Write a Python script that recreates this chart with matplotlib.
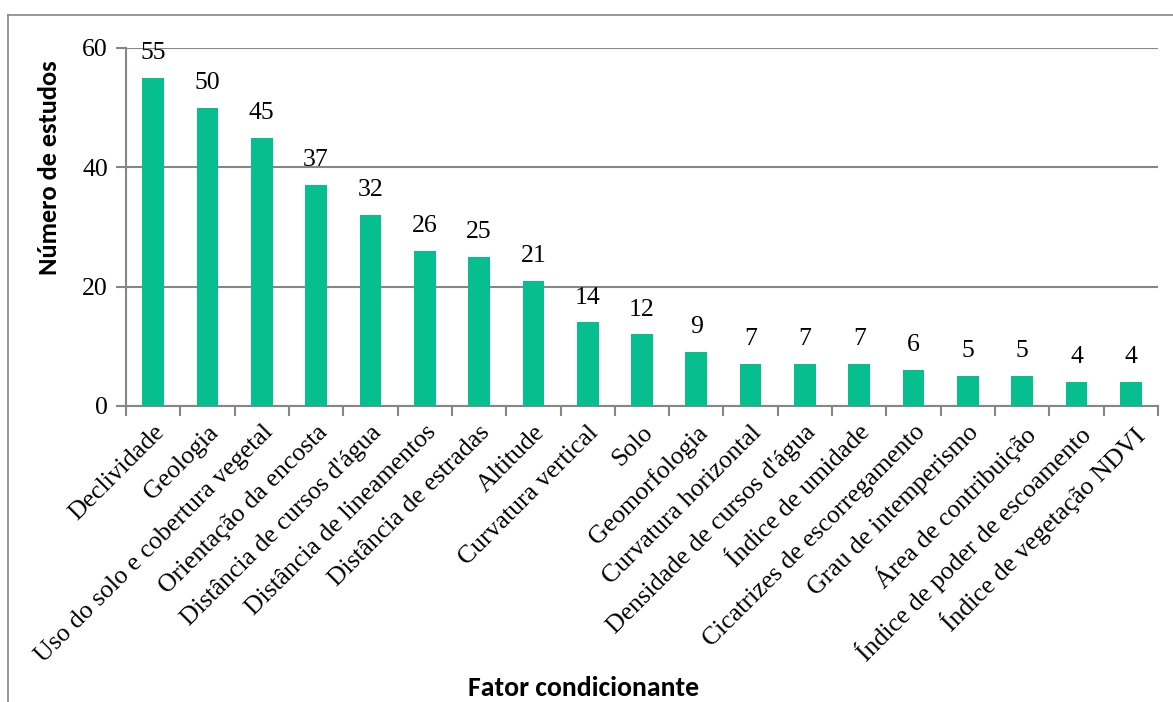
import matplotlib
matplotlib.use("Agg")
import matplotlib.pyplot as plt
from matplotlib import font_manager as fm
from matplotlib.lines import Line2D

available = {f.name for f in fm.fontManager.ttflist}
SERIF = "Liberation Serif"
TITLE_FONT = next((n for n in ("Carlito", "Calibri", "Lato") if n in available), "DejaVu Sans")

categories = [
    "Declividade", "Geologia", "Uso do solo e cobertura vegetal",
    "Orientação da encosta", "Distância de cursos d'água",
    "Distância de lineamentos", "Distância de estradas", "Altitude",
    "Curvatura vertical", "Solo", "Geomorfologia", "Curvatura horizontal",
    "Densidade de cursos d'água", "Índice de umidade",
    "Cicatrizes de escorregamento", "Grau de intemperismo",
    "Área de contribuição", "Índice de poder de escoamento",
    "Índice de vegetação NDVI",
]
studies = [55, 50, 45, 37, 32, 26, 25, 21, 14, 12, 9, 7, 7, 7, 6, 5, 5, 4, 4]
y_ticks = [0, 20, 40, 60]

W, H = 1173, 702
fig = plt.figure(figsize=(W / 100, H / 100), dpi=100)
ax = fig.add_axes([126 / W, 1 - 406 / H, (1158 - 126) / W, (406 - 48) / H])

grey = "#868686"
bar_color = "#07BE8E"
fs = 18.5

x = list(range(len(categories)))
ax.bar(x, studies, width=0.40, color=bar_color, zorder=3)

for xi, v in zip(x, studies):
    ax.annotate(str(v), (xi, v), xytext=(0, 10), textcoords="offset points",
                ha="center", va="bottom", fontsize=fs, family=SERIF, zorder=4)

ax.set_xlim(-0.5, len(categories) - 0.5)
ax.set_ylim(0, 60)
ax.set_yticks(y_ticks)
ax.set_yticklabels([str(t) for t in y_ticks], fontsize=fs, family=SERIF)
ax.yaxis.grid(True, color=grey, linewidth=1.5, zorder=0)
ax.set_axisbelow(True)

# category labels placed at bar centres, tick marks at category boundaries
ax.set_xticks(x)
ax.set_xticklabels(categories, rotation=45, ha="right", rotation_mode="anchor",
                   fontsize=fs, family=SERIF)
ax.tick_params(axis="x", length=0, pad=11)
ax.set_xticks([i - 0.5 for i in range(len(categories) + 1)], minor=True)
ax.tick_params(axis="x", which="minor", length=7, width=1.5, color=grey)
ax.tick_params(axis="y", length=7, width=1.5, color=grey, pad=6)

for s in ("top", "right"):
    ax.spines[s].set_visible(False)
for s in ("left", "bottom"):
    ax.spines[s].set_color(grey)
    ax.spines[s].set_linewidth(1.5)

fig.text(584 / W, 1 - 688 / H, "Fator condicionante", ha="center", va="center",
         fontsize=20, fontweight="bold", family=TITLE_FONT)
fig.text(50 / W, 1 - 168 / H, "Número de estudos", ha="center", va="center",
         rotation=90, fontsize=19, fontweight="bold", family=TITLE_FONT)

# chart-area frame (top and left edges)
fig.add_artist(Line2D([8 / W, 1], [1 - 15 / H, 1 - 15 / H], color=grey,
                      linewidth=1.2, transform=fig.transFigure))
fig.add_artist(Line2D([8 / W, 8 / W], [0, 1 - 15 / H], color=grey,
                      linewidth=1.2, transform=fig.transFigure))

fig.savefig("out.png", dpi=100)
